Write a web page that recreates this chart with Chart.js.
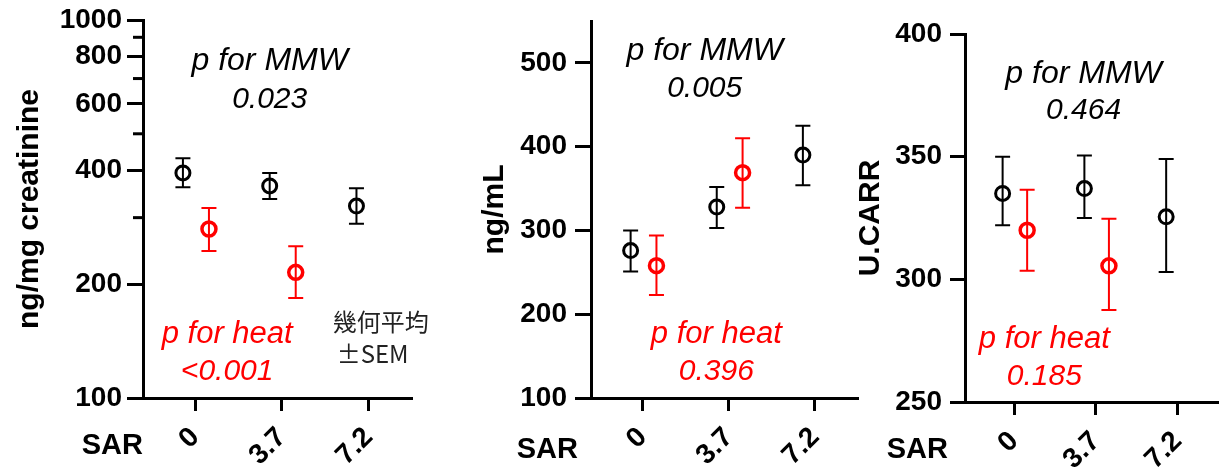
<!DOCTYPE html>
<html>
<head>
<meta charset="utf-8">
<script src="https://cdn.jsdelivr.net/npm/chart.js@4.4.0/dist/chart.umd.min.js"></script>
<style>
  body { margin: 0; background: #fff; }
  #wrap { position: relative; width: 1229px; height: 467px; overflow: hidden; }
  canvas { position: absolute; top: 0; }
</style>
</head>
<body>
<div id="wrap">
  <canvas id="chart1" width="440" height="467" style="left:0px"></canvas>
  <canvas id="chart2" width="430" height="467" style="left:440px"></canvas>
  <canvas id="chart3" width="379" height="467" style="left:850px"></canvas>
</div>
<script>
// categories (SAR, W/kg)
var sarLabels = ['0', '3.7', '7.2'];

// panel 1: ng/mg creatinine (geometric mean, -SEM, +SEM)
var mmwCreat = [394, 364, 322];
var mmwCreatLo = [361, 336, 289];
var mmwCreatHi = [431, 394, 359];
var heatCreat = [280, 215];
var heatCreatLo = [245, 184];
var heatCreatHi = [318, 252];
var creatTicks = [100, 200, 300, 400, 500, 600, 700, 800, 900, 1000];
var creatLabelled = [100, 200, 400, 600, 800, 1000];

// panel 2: ng/mL
var mmwConc = [276, 328, 390];
var mmwConcLo = [251, 303, 354];
var mmwConcHi = [300, 352, 425];
var heatConc = [258, 369];
var heatConcLo = [223, 327];
var heatConcHi = [294, 410];
var concTicks = [100, 200, 300, 400, 500];

// panel 3: U.CARR
var mmwCarr = [335, 337, 325.5];
var mmwCarrLo = [322, 325, 303];
var mmwCarrHi = [350, 350.5, 349];
var heatCarr = [320, 305.5];
var heatCarrLo = [303.5, 287.5];
var heatCarrHi = [336.5, 324.7];
var carrTicks = [250, 300, 350, 400];

Chart.defaults.font.family = '"Liberation Sans", Arial, sans-serif';
Chart.defaults.color = '#000';

var black = '#000000';
var red = '#ff0000';
var shiftMmw = -0.14;
var shiftHeat = 0.16;

// error bars from lo/hi arrays stored on each dataset
var errorBarPlugin = {
  id: 'errorBars',
  beforeDatasetsDraw: function(chart) {
    var c = chart.ctx;
    var xs = chart.scales.x, ys = chart.scales.y;
    chart.data.datasets.forEach(function(ds) {
      c.save();
      c.strokeStyle = ds.borderColor;
      c.lineWidth = 2;
      ds.data.forEach(function(pt, i) {
        var px = xs.getPixelForValue(pt.x);
        var top = ys.getPixelForValue(ds.hi[i]);
        var bot = ys.getPixelForValue(ds.lo[i]);
        c.beginPath();
        c.moveTo(px, top); c.lineTo(px, bot);
        c.moveTo(px - 7.5, top); c.lineTo(px + 7.5, top);
        c.moveTo(px - 7.5, bot); c.lineTo(px + 7.5, bot);
        c.stroke();
      });
      c.restore();
    });
  }
};

// free text placed in data units, plus minor ticks and the "SAR" label
var textPlugin = {
  id: 'panelText',
  afterDraw: function(chart, args, opts) {
    var c = chart.ctx;
    var xs = chart.scales.x, ys = chart.scales.y;
    c.save();
    (opts.items || []).forEach(function(t) {
      c.font = t.font;
      c.fillStyle = t.color;
      c.textAlign = t.align || 'center';
      c.textBaseline = 'alphabetic';
      c.fillText(t.text, xs.getPixelForValue(t.x), ys.getPixelForValue(t.y));
    });
    (opts.minor || []).forEach(function(v) {
      var py = ys.getPixelForValue(v);
      c.strokeStyle = black;
      c.lineWidth = 3;
      c.beginPath();
      c.moveTo(chart.chartArea.left - 10, py);
      c.lineTo(chart.chartArea.left, py);
      c.stroke();
    });
    c.font = 'bold 29px "Liberation Sans", Arial, sans-serif';
    c.fillStyle = black;
    c.textAlign = 'right';
    c.fillText('SAR', opts.sarX, opts.sarY);
    c.restore();
  }
};

var mmwFont = 'italic 32px "Liberation Sans", Arial, sans-serif';
var heatFont = 'italic 31px "Liberation Sans", Arial, sans-serif';
var numFont = 'italic 30px "Liberation Sans", Arial, sans-serif';

function points(vals, shift) {
  return vals.map(function(v, i) { return { x: i + shift, y: v }; });
}

function buildPanel(id, p) {
  var ctx = document.getElementById(id).getContext('2d');
  var yScale = {
    type: p.yType,
    min: p.yMin,
    max: p.yMax,
    afterBuildTicks: function(s) {
      s.ticks = p.yTicks.map(function(v) { return { value: v }; });
    },
    ticks: {
      autoSkip: false,
      padding: p.yPad,
      color: black,
      font: { size: 28, weight: 'bold' },
      callback: function(v) {
        return p.yLabelled.indexOf(v) >= 0 ? String(v) : '';
      }
    },
    grid: {
      drawOnChartArea: false,
      tickLength: p.yTickLen,
      tickWidth: 3,
      tickColor: function(c) {
        return c.tick && p.yLabelled.indexOf(c.tick.value) >= 0 ? black : 'rgba(0,0,0,0)';
      }
    },
    border: { color: black, width: 3 },
    title: {
      display: true,
      text: p.yTitle,
      color: black,
      font: { size: 30, weight: 'bold' },
      padding: { top: p.titlePad, bottom: 0 }
    },
    afterFit: function(s) {
      s.width = p.left;
      s.paddingTop = 0; s.paddingBottom = 0;
    }
  };
  return new Chart(ctx, {
    type: 'scatter',
    data: {
      datasets: [{
        label: 'MMW',
        data: points(p.mmw, shiftMmw),
        lo: p.mmwLo,
        hi: p.mmwHi,
        borderColor: black,
        backgroundColor: 'rgba(0,0,0,0)',
        pointRadius: 7,
        pointBorderWidth: 3
      }, {
        label: 'heat',
        data: points(p.heat, shiftHeat),
        lo: p.heatLo,
        hi: p.heatHi,
        borderColor: red,
        backgroundColor: 'rgba(0,0,0,0)',
        pointRadius: 7,
        pointBorderWidth: 3.5
      }]
    },
    options: {
      responsive: false,
      animation: false,
      events: [],
      layout: { padding: { left: 0, top: p.top, right: p.right, bottom: 0 } },
      plugins: {
        legend: { display: false },
        tooltip: { enabled: false },
        panelText: { items: p.texts, minor: p.minor, sarX: p.sarX, sarY: p.sarY }
      },
      scales: {
        x: {
          type: 'linear',
          min: -0.6,
          max: 2.5,
          afterBuildTicks: function(s) {
            s.ticks = [0, 1, 2].map(function(v) { return { value: v }; });
          },
          ticks: {
            autoSkip: false,
            minRotation: 45,
            maxRotation: 45,
            padding: 10,
            color: black,
            font: { size: 28, weight: 'bold' },
            callback: function(v) { return sarLabels[v]; }
          },
          grid: { drawOnChartArea: false, tickLength: 13, tickWidth: 3, tickColor: black },
          border: { color: black, width: 3 },
          afterFit: function(s) {
            s.height = p.xHeight;
            s.paddingLeft = 0; s.paddingRight = 0;
          }
        },
        y: yScale
      }
    },
    plugins: [errorBarPlugin, textPlugin]
  });
}

buildPanel('chart1', {
  yType: 'logarithmic', yMin: 100, yMax: 1000,
  yTicks: creatTicks, yLabelled: creatLabelled, minor: [300, 500, 700, 900],
  yTitle: 'ng/mg creatinine', titlePad: 12, yPad: 5, yTickLen: 16,
  left: 143, top: 20, right: 28, xHeight: 69,
  mmw: mmwCreat, mmwLo: mmwCreatLo, mmwHi: mmwCreatHi,
  heat: heatCreat, heatLo: heatCreatLo, heatHi: heatCreatHi,
  sarX: 143, sarY: 454,
  texts: [
    { text: 'p for MMW', x: 0.86, y: 738, color: black, font: mmwFont },
    { text: '0.023', x: 0.86, y: 585, color: black, font: numFont },
    { text: 'p for heat', x: 0.37, y: 140, color: red, font: heatFont },
    { text: '<0.001', x: 0.37, y: 111.6, color: red, font: numFont },
    { text: '幾何平均', x: 1.586, y: 150, color: '#222', align: 'left', font: '24px "Noto Sans CJK TC", sans-serif' },
    { text: '±SEM', x: 1.632, y: 123.8, color: '#222', align: 'left', font: '24px "Noto Sans CJK TC", sans-serif' }
  ]
});

buildPanel('chart2', {
  yType: 'linear', yMin: 100, yMax: 550,
  yTicks: concTicks, yLabelled: concTicks, minor: [],
  yTitle: 'ng/mL', titlePad: 37, yPad: 8, yTickLen: 16,
  left: 151, top: 21, right: 12, xHeight: 69,
  mmw: mmwConc, mmwLo: mmwConcLo, mmwHi: mmwConcHi,
  heat: heatConc, heatLo: heatConcLo, heatHi: heatConcHi,
  sarX: 138, sarY: 458,
  texts: [
    { text: 'p for MMW', x: 0.72, y: 504, color: black, font: mmwFont },
    { text: '0.005', x: 0.72, y: 459.6, color: black, font: numFont },
    { text: 'p for heat', x: 0.855, y: 165.7, color: red, font: heatFont },
    { text: '0.396', x: 0.855, y: 121.5, color: red, font: numFont }
  ]
});

buildPanel('chart3', {
  yType: 'linear', yMin: 250, yMax: 400,
  yTicks: carrTicks, yLabelled: carrTicks, minor: [],
  yTitle: 'U.CARR', titlePad: 3, yPad: 8, yTickLen: 15,
  left: 115, top: 34, right: 0, xHeight: 65,
  mmw: mmwCarr, mmwLo: mmwCarrLo, mmwHi: mmwCarrHi,
  heat: heatCarr, heatLo: heatCarrLo, heatHi: heatCarrHi,
  sarX: 98, sarY: 458,
  texts: [
    { text: 'p for MMW', x: 0.85, y: 380, color: black, font: mmwFont },
    { text: '0.464', x: 0.85, y: 365.5, color: black, font: numFont },
    { text: 'p for heat', x: 0.37, y: 272, color: red, font: heatFont },
    { text: '0.185', x: 0.37, y: 257, color: red, font: numFont }
  ]
});
</script>
</body>
</html>
